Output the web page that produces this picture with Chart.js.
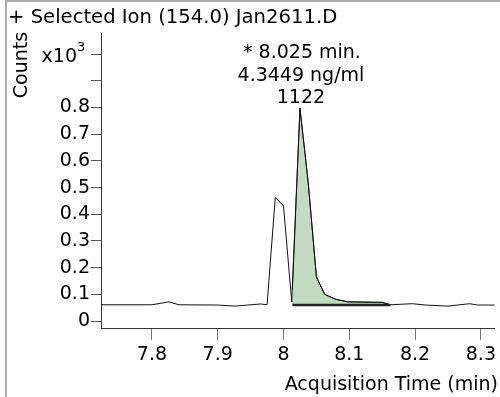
<!DOCTYPE html>
<html>
<head>
<meta charset="utf-8">
<script src="https://cdn.jsdelivr.net/npm/chart.js@4"></script>
<style>
html, body { margin: 0; padding: 0; background: #fff; }
#wrap { width: 500px; height: 397px; position: relative; }
</style>
</head>
<body>
<div id="wrap"><canvas id="chromChart" width="500" height="397"></canvas></div>
<script>
// chromatogram trace, counts (axis shows x10^3)
var traceTime = [7.72, 7.80, 7.826, 7.841, 7.90, 7.926, 7.9655, 7.975, 7.9875, 8.000, 8.0125,
                 8.025, 8.0375, 8.050, 8.0625, 8.080, 8.0975, 8.150, 8.1625, 8.196, 8.216,
                 8.250, 8.283, 8.295, 8.33];
var traceCounts = [61, 61, 72, 61, 60, 56, 64, 61, 463, 431, 72,
                   797, 520, 166, 100, 81, 72, 70, 61, 65, 60,
                   56, 65, 60, 60];

// integrated peak region and its baseline
var peakTime = [8.0135, 8.025, 8.0375, 8.050, 8.0625, 8.080, 8.0975, 8.150, 8.1625];
var peakCounts = [120, 797, 520, 166, 100, 81, 72, 70, 61];
var baseTime = [8.0135, 8.1625];
var baseCounts = [60, 60];

var xTicks = [7.8, 7.9, 8.0, 8.1, 8.2, 8.3];
var xTickLabels = ['7.8', '7.9', '8', '8.1', '8.2', '8.3'];
var yTicks = [0, 100, 200, 300, 400, 500, 600, 700, 800, 900, 1000];
var yTickLabels = ['0', '0.1', '0.2', '0.3', '0.4', '0.5', '0.6', '0.7', '0.8', '', ''];

var chartTitle = '+ Selected Ion (154.0) Jan2611.D';
var peakLabels = ['* 8.025 min.', '4.3449 ng/ml', '1122'];
var peakApex = 8.025;
var peakApexCounts = 797;

var FONT = '"DejaVu Sans", Verdana, sans-serif';

function toPoints(xs, ys) {
    return xs.map(function (x, i) { return { x: x, y: ys[i] }; });
}

var textPlugin = {
    id: 'chromText',
    afterDraw: function (chart) {
        var ctx = chart.ctx;
        ctx.save();
        // frame
        ctx.strokeStyle = '#a9a9a9';
        ctx.lineWidth = 2;
        ctx.beginPath();
        ctx.moveTo(6, 397);
        ctx.lineTo(6, 1);
        ctx.lineTo(500, 1);
        ctx.stroke();

        ctx.fillStyle = '#000';
        ctx.textBaseline = 'middle';
        ctx.textAlign = 'left';
        ctx.font = '19.6px ' + FONT;
        ctx.fillText(chartTitle, 8, 18);

        ctx.font = '19px ' + FONT;
        // x axis title
        ctx.textAlign = 'right';
        ctx.fillText('Acquisition Time (min)', 498, 385);

        // peak annotation
        var px = chart.scales.x.getPixelForValue(peakApex);
        var py = chart.scales.y.getPixelForValue(peakApexCounts);
        ctx.textAlign = 'center';
        ctx.fillText(peakLabels[0], px + 2, py - 55);
        ctx.fillText(peakLabels[1], px + 1, py - 32);
        ctx.fillText(peakLabels[2], px + 1, py - 10);

        // multiplier label
        var ty = chart.scales.y.getPixelForValue(1000);
        ctx.textAlign = 'right';
        ctx.fillText('x10', 77, ty + 3);
        ctx.font = '13px ' + FONT;
        ctx.textAlign = 'left';
        ctx.fillText('3', 77, ty - 6);

        // y axis title
        ctx.font = '19px ' + FONT;
        ctx.translate(22, 65);
        ctx.rotate(-Math.PI / 2);
        ctx.textAlign = 'center';
        ctx.fillText('Counts', 0, 0);
        ctx.restore();
    }
};

new Chart('chromChart', {
    type: 'line',
    data: {
        datasets: [{
            data: toPoints(baseTime, baseCounts),
            borderColor: '#222',
            borderWidth: 2.5,
            pointRadius: 0,
            fill: false,
            order: 1
        }, {
            data: toPoints(traceTime, traceCounts),
            borderColor: '#111',
            borderWidth: 1,
            pointRadius: 0,
            fill: false,
            order: 2
        }, {
            data: toPoints(peakTime, peakCounts),
            borderColor: '#333',
            borderWidth: 1,
            backgroundColor: '#c1dbc1',
            pointRadius: 0,
            fill: 0,
            order: 3
        }]
    },
    options: {
        responsive: false,
        animation: false,
        devicePixelRatio: 1,
        layout: { padding: { left: 0, right: 0, top: 33, bottom: 0 } },
        plugins: { legend: { display: false }, tooltip: { enabled: false } },
        scales: {
            x: {
                type: 'linear',
                min: 7.7226,
                max: 8.3208,
                afterFit: function (s) { s.height = 69; },
                afterBuildTicks: function (s) { s.ticks = xTicks.map(function (v) { return { value: v }; }); },
                ticks: {
                    autoSkip: false,
                    maxRotation: 0,
                    padding: 4,
                    color: '#000',
                    font: { family: FONT, size: 19 },
                    callback: function (v, i) { return xTickLabels[i]; }
                },
                grid: { drawOnChartArea: false, drawTicks: true, tickLength: 12, tickColor: '#777' },
                border: { display: true, color: '#333', width: 1 }
            },
            y: {
                min: -26,
                max: 1079,
                afterFit: function (s) { s.width = 101; },
                afterBuildTicks: function (s) { s.ticks = yTicks.map(function (v) { return { value: v }; }); },
                ticks: {
                    autoSkip: false,
                    padding: 1,
                    color: '#000',
                    font: { family: FONT, size: 19 },
                    callback: function (v, i) { return yTickLabels[i]; }
                },
                grid: { drawOnChartArea: false, drawTicks: true, tickLength: 10, tickColor: '#555' },
                border: { display: true, color: '#333', width: 1 }
            }
        }
    },
    plugins: [textPlugin]
});
</script>
</body>
</html>
